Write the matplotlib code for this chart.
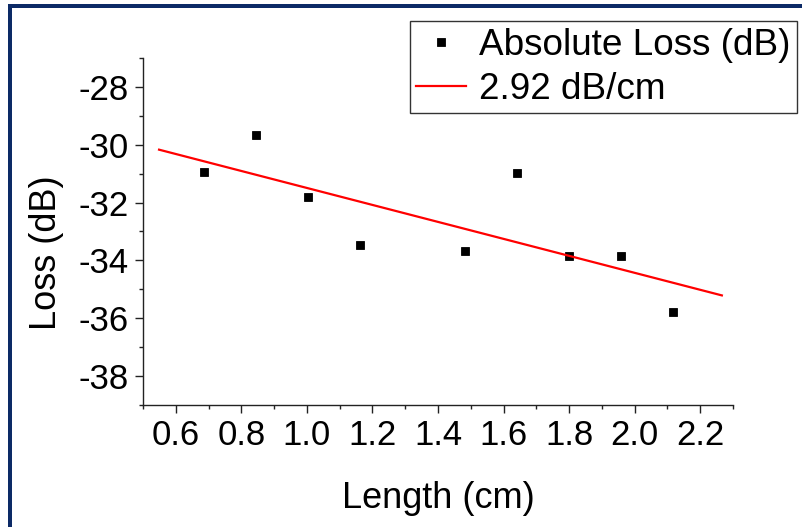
import matplotlib
matplotlib.use("Agg")
import matplotlib.pyplot as plt
from matplotlib.patches import Rectangle
from matplotlib.ticker import MultipleLocator

plt.rcParams['font.family'] = ['Liberation Sans', 'DejaVu Sans']

# Data
length_cm = [0.687, 0.844, 1.002, 1.162, 1.483, 1.640, 1.800, 1.958, 2.117]
loss_db = [-30.93, -29.67, -31.80, -33.47, -33.67, -30.98, -33.84, -33.84, -35.80]
fit_x = [0.549, 2.266]
fit_y = [-30.17, -35.21]
x_ticks = [0.6, 0.8, 1.0, 1.2, 1.4, 1.6, 1.8, 2.0, 2.2]
y_ticks = [-38, -36, -34, -32, -30, -28]

W, H = 802, 527
fig = plt.figure(figsize=(W / 100, H / 100), dpi=100)
ax = fig.add_axes([143 / W, 1 - 405 / H, (733 - 143) / W, (405 - 58) / H])

ax.plot(length_cm, loss_db, linestyle='none', marker='s', ms=6.4,
        color='black', mec='black', mew=0.6, label='Absolute Loss (dB)')
ax.plot(fit_x, fit_y, color='#ff0000', lw=1.6, label='2.92 dB/cm')

ax.set_xlim(0.5, 2.3)
ax.set_ylim(-39, -27)
ax.set_xticks(x_ticks)
ax.set_xticklabels([f"{v:.1f}" for v in x_ticks])
ax.set_yticks(y_ticks)
ax.set_yticklabels([f"{v:d}" for v in y_ticks])
ax.xaxis.set_minor_locator(MultipleLocator(0.1))
ax.yaxis.set_minor_locator(MultipleLocator(1))

for s in ['top', 'right']:
    ax.spines[s].set_visible(False)
for s in ['left', 'bottom']:
    ax.spines[s].set_linewidth(1.0)
    ax.spines[s].set_color('#222222')

ax.tick_params(which='major', direction='out', length=6, width=1.0,
               labelsize=25, pad=4, color='#222222')
ax.tick_params(which='minor', direction='out', length=3, width=1.0, color='#222222')

ax.set_xlabel('Length (cm)', fontsize=26)
ax.set_ylabel('Loss (dB)', fontsize=26)
ax.xaxis.label.set(va='center', ha='center')
ax.yaxis.label.set(va='center', ha='center')
ax.xaxis.set_label_coords(0.5, (405 - 498) / (405 - 58))
ax.yaxis.set_label_coords((47 - 143) / (733 - 143), 1 - (253 - 58) / (405 - 58))

leg = ax.legend(loc='upper right', bbox_to_anchor=(797 / W, 1 - 21 / H),
                bbox_transform=fig.transFigure, borderaxespad=0,
                fontsize=26.6, frameon=True, fancybox=False, framealpha=1,
                edgecolor='#333333', handlelength=1.35, handletextpad=0.35,
                borderpad=0.18, labelspacing=0.24, markerscale=1.0)
leg.get_frame().set_linewidth(1.0)

# Partial dark-blue frame around the picture (left and top edges only)
navy = '#0c2a66'
fig.add_artist(Rectangle((8 / W, 0), 4 / W, 1 - 4 / H, transform=fig.transFigure,
                         facecolor=navy, edgecolor='none'))
fig.add_artist(Rectangle((8 / W, 1 - 8 / H), 1 - 8 / W, 4 / H, transform=fig.transFigure,
                         facecolor=navy, edgecolor='none'))

fig.savefig('out.png', dpi=100, facecolor='white')
